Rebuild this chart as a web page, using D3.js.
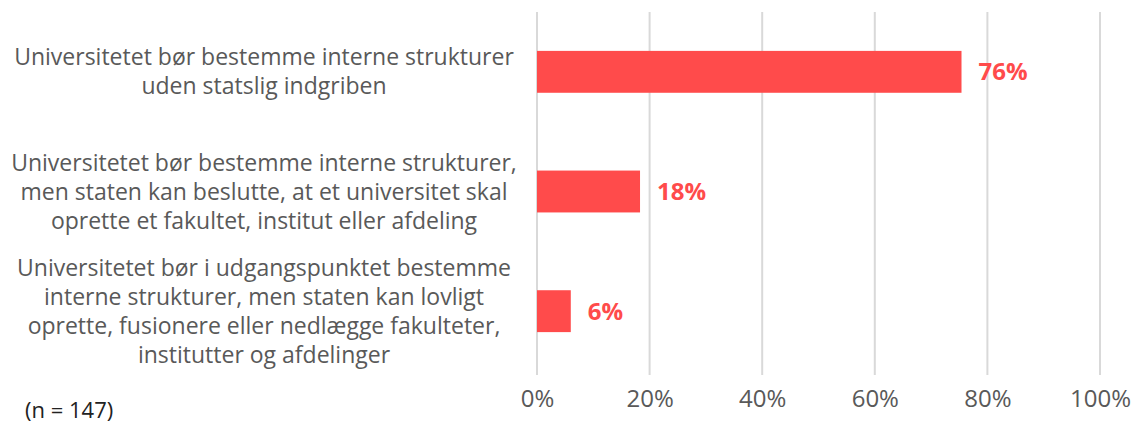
<!DOCTYPE html>
<html>
<head>
<meta charset="utf-8">
<script src="https://cdn.jsdelivr.net/npm/d3@7"></script>
<style>
  body { margin: 0; background: #fff; }
</style>
</head>
<body>
<svg id="chart" width="1131" height="423"></svg>
<script>
var categories = [
  ["Universitetet bør bestemme interne strukturer", "uden statslig indgriben"],
  ["Universitetet bør bestemme interne strukturer,", "men staten kan beslutte, at et universitet skal", "oprette et fakultet, institut eller afdeling"],
  ["Universitetet bør i udgangspunktet bestemme", "interne strukturer, men staten kan lovligt", "oprette, fusionere eller nedlægge fakulteter,", "institutter og afdelinger"]
];
var values = [75.4, 18.3, 6.0];
var valueLabels = ["76%", "18%", "6%"];
var ticks = [0, 20, 40, 60, 80, 100];
var note = "(n = 147)";

var svg = d3.select("#chart");
var font = "'Open Sans', sans-serif";
var red = "#FF4B4B";
var grey = "#595959";

var x = d3.scaleLinear().domain([0, 100]).range([537, 1100]);
var y = d3.scaleBand().domain(d3.range(categories.length)).range([12, 371])
  .paddingInner(0.65).paddingOuter(0.325);

// gridlines
svg.append("g").selectAll("line")
  .data(ticks)
  .enter().append("line")
  .attr("x1", function(d) { return x(d); })
  .attr("x2", function(d) { return x(d); })
  .attr("y1", 12)
  .attr("y2", 375)
  .style("stroke", "#d9d9d9")
  .style("stroke-width", 2);

// x axis labels
var xAxis = svg.append("g")
  .attr("transform", "translate(0,375)")
  .call(d3.axisBottom(x).tickValues(ticks).tickSize(0).tickPadding(15).tickFormat(function(d) { return d + "%"; }));
xAxis.select(".domain").remove();
xAxis.selectAll("text")
  .style("font-family", font)
  .style("font-size", "24px")
  .style("fill", grey);

// bars
svg.append("g").selectAll("rect")
  .data(values)
  .enter().append("rect")
  .attr("x", x(0))
  .attr("y", function(d, i) { return y(i); })
  .attr("width", function(d) { return x(d) - x(0); })
  .attr("height", y.bandwidth())
  .style("fill", red);

// value labels
svg.append("g").selectAll("text")
  .data(values)
  .enter().append("text")
  .attr("x", function(d) { return x(d) + 17; })
  .attr("y", function(d, i) { return y(i) + y.bandwidth() / 2; })
  .attr("dy", "0.35em")
  .style("font-family", font)
  .style("font-weight", "bold")
  .style("font-size", "24px")
  .style("fill", red)
  .text(function(d, i) { return valueLabels[i]; });

// category labels
var lineH = 29;
categories.forEach(function(lines, i) {
  var cy = y(i) + y.bandwidth() / 2;
  var t = svg.append("text")
    .attr("text-anchor", "middle")
    .style("font-family", font)
    .style("font-size", "23px")
    .style("fill", grey);
  lines.forEach(function(l, j) {
    t.append("tspan")
      .attr("x", 264)
      .attr("y", cy + (j - (lines.length - 1) / 2) * lineH)
      .attr("dy", "0.35em")
      .text(l);
  });
});

svg.append("text")
  .attr("x", 25)
  .attr("y", 418)
  .style("font-family", "'Open Sans', sans-serif")
  .style("font-size", "22px")
  .style("fill", "#222")
  .text(note);
</script>
</body>
</html>
